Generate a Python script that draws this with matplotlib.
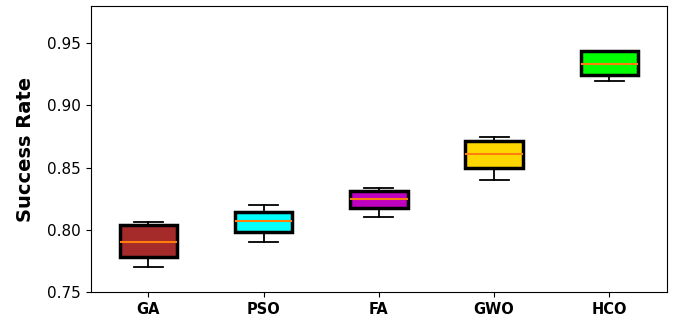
import matplotlib
matplotlib.use("Agg")
import matplotlib.pyplot as plt

algorithms = ["GA", "PSO", "FA", "GWO", "HCO"]
whisker_low = [0.770, 0.790, 0.810, 0.840, 0.920]
q1 = [0.778, 0.798, 0.8175, 0.850, 0.9245]
medians = [0.790, 0.807, 0.8245, 0.861, 0.933]
q3 = [0.804, 0.8145, 0.831, 0.8715, 0.944]
whisker_high = [0.806, 0.820, 0.8335, 0.875, 0.944]
colors = ["brown", "cyan", "#c000c0", "gold", "lime"]

stats = []
for i, name in enumerate(algorithms):
    stats.append({
        "label": name,
        "whislo": whisker_low[i],
        "q1": q1[i],
        "med": medians[i],
        "q3": q3[i],
        "whishi": whisker_high[i],
        "fliers": [],
    })

fig = plt.figure(figsize=(6.73, 3.25), dpi=100)
ax = fig.add_axes([0.135, 0.1015, 0.856, 0.88])

bp = ax.bxp(stats, patch_artist=True, widths=0.5,
            boxprops=dict(linewidth=2.5, edgecolor="black"),
            whiskerprops=dict(linewidth=1.3, color="black"),
            capprops=dict(linewidth=1.3, color="black"),
            medianprops=dict(linewidth=1.5, color="#ff7f0e"))
for patch, c in zip(bp["boxes"], colors):
    patch.set_facecolor(c)

ax.set_ylim(0.75, 0.98)
ax.set_yticks([0.75, 0.80, 0.85, 0.90, 0.95])
ax.set_ylabel("Success Rate", fontsize=14, fontweight="bold", labelpad=9)
ax.tick_params(axis="y", labelsize=11)
for lbl in ax.get_xticklabels():
    lbl.set_fontweight("bold")
    lbl.set_fontsize(10.5)

plt.savefig("out.png", dpi=100)
